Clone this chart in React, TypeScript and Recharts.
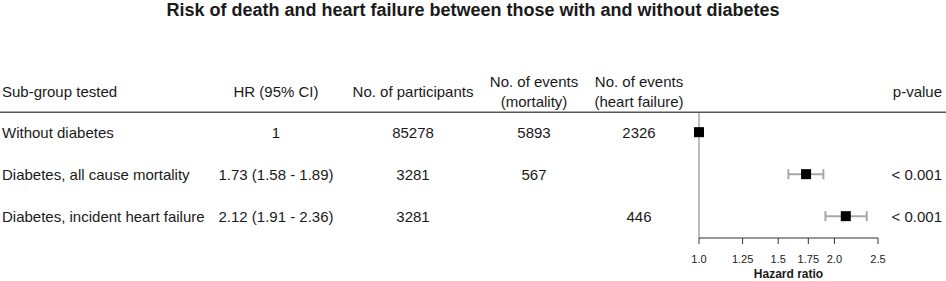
import { ScatterChart, Scatter, XAxis, YAxis, ErrorBar, ReferenceLine, Label } from "recharts";

const subgroups = ["Without diabetes", "Diabetes, all cause mortality", "Diabetes, incident heart failure"];
const hrLabels = ["1", "1.73 (1.58 - 1.89)", "2.12 (1.91 - 2.36)"];
const participants = ["85278", "3281", "3281"];
const eventsMortality = ["5893", "567", ""];
const eventsHeartFailure = ["2326", "", "446"];
const pValues = ["", "< 0.001", "< 0.001"];
const hr = [1, 1.73, 2.12];
const ciLow = [1, 1.58, 1.91];
const ciHigh = [1, 1.89, 2.36];
const xTicks = [1, 1.25, 1.5, 1.75, 2, 2.5];

const FONT = "'Liberation Sans', Arial, Helvetica, sans-serif";
const TEXT = "#1a1a1a";

const data = hr.map((v, i) => ({
  row: i + 1,
  hr: v,
  err: [v - ciLow[i], ciHigh[i] - v],
}));

// column anchors for the table part
const cols = { hr: 276, part: 413, mort: 534, hf: 639, p: 942 };

function RowTick(props: any) {
  const { y, payload } = props;
  const i = payload.value - 1;
  const t = { fontFamily: FONT, fontSize: 15, fill: TEXT, dy: "0.4em" };
  return (
    <g>
      {i === 0 && (
        <g>
          <text x={2} y={y - 41} {...t}>Sub-group tested</text>
          <text x={cols.hr} y={y - 41} textAnchor="middle" {...t}>HR (95% CI)</text>
          <text x={cols.part} y={y - 41} textAnchor="middle" {...t}>No. of participants</text>
          <text x={cols.mort} y={y - 51} textAnchor="middle" {...t}>No. of events</text>
          <text x={cols.mort} y={y - 31} textAnchor="middle" {...t}>(mortality)</text>
          <text x={cols.hf} y={y - 51} textAnchor="middle" {...t}>No. of events</text>
          <text x={cols.hf} y={y - 31} textAnchor="middle" {...t}>(heart failure)</text>
          <text x={cols.p} y={y - 41} textAnchor="end" {...t}>p-value</text>
          <line x1={0} x2={946} y1={y - 20} y2={y - 20} stroke="#555" strokeWidth={1.5} />
        </g>
      )}
      <text x={2} y={y} {...t}>{subgroups[i]}</text>
      <text x={cols.hr} y={y} textAnchor="middle" {...t}>{hrLabels[i]}</text>
      <text x={cols.part} y={y} textAnchor="middle" {...t}>{participants[i]}</text>
      <text x={cols.mort} y={y} textAnchor="middle" {...t}>{eventsMortality[i]}</text>
      <text x={cols.hf} y={y} textAnchor="middle" {...t}>{eventsHeartFailure[i]}</text>
      <text x={cols.p} y={y} textAnchor="end" {...t}>{pValues[i]}</text>
    </g>
  );
}

const Square = (props: any) => (
  <rect x={props.cx - 5} y={props.cy - 5} width={10} height={10} fill="#000" />
);

export default function App() {
  return (
    <div style={{ position: "relative", width: 946, height: 281, background: "#fff" }}>
      <style>{`body{margin:0}`}</style>
      <div
        style={{
          position: "absolute",
          top: -1,
          left: 0,
          width: 946,
          textAlign: "center",
          fontFamily: FONT,
          fontWeight: "bold",
          fontSize: 18,
          color: TEXT,
          lineHeight: "22px",
        }}
      >
        Risk of death and heart failure between those with and without diabetes
      </div>
      <ScatterChart width={946} height={281} margin={{ top: 112, right: 68, bottom: 0, left: 0 }}>
        <XAxis
          dataKey="hr"
          type="number"
          scale="log"
          domain={[1, 2.5]}
          ticks={xTicks}
          height={43}
          tickSize={6}
          tickMargin={11}
          stroke="#333"
          tick={{ fontSize: 11, fill: TEXT, fontFamily: FONT }}
          tickFormatter={(v: number) => (v === 1 || v === 2 ? v.toFixed(1) : String(v))}
        >
          <Label
            value="Hazard ratio"
            position="insideBottom"
            offset={3}
            style={{ fontSize: 12, fontWeight: "bold", fill: TEXT, fontFamily: FONT }}
          />
        </XAxis>
        <YAxis
          dataKey="row"
          type="number"
          domain={[0.52, 3.52]}
          ticks={[1, 2, 3]}
          reversed
          width={699}
          axisLine={false}
          tickLine={false}
          tick={<RowTick />}
        />
        <ReferenceLine x={1} stroke="#bdbdbd" strokeWidth={2} />
        <Scatter data={data} shape={<Square />} isAnimationActive={false}>
          <ErrorBar dataKey="err" direction="x" width={5} stroke="#a8a8a8" strokeWidth={2} />
        </Scatter>
      </ScatterChart>
    </div>
  );
}
